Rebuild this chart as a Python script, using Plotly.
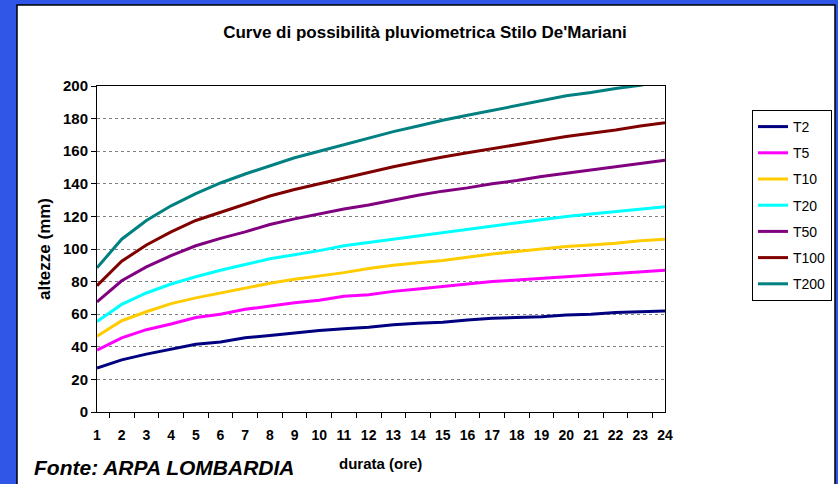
import plotly.graph_objects as go

durata = [str(h) for h in range(1, 25)]

t2 = [27, 32, 35.5, 38.5, 41.5, 43, 45.5, 47, 48.5, 50, 51, 52,
      53.5, 54.5, 55, 56.5, 57.5, 58, 58.5, 59.5, 60, 61, 61.5, 62]
t5 = [38, 45.5, 50.5, 54, 58, 60, 63, 65, 67, 68.5, 71, 72,
      74, 75.5, 77, 78.5, 80, 81, 82, 83, 84, 85, 86, 87]
t10 = [46.5, 56, 61.5, 66.5, 70, 73, 76, 79, 81.5, 83.5, 85.5, 88,
       90, 91.5, 93, 95, 97, 98.5, 100, 101.5, 102.5, 103.5, 105, 106]
t20 = [55.5, 66, 73, 78.5, 83, 87, 90.5, 94, 96.5, 99, 102, 104,
       106, 108, 110, 112, 114, 116, 118, 120, 121.5, 123, 124.5, 126]
t50 = [67.5, 80.5, 89, 96, 102, 106.5, 110.5, 115, 118.5, 121.5, 124.5, 127,
       130, 133, 135.5, 137.5, 140, 142, 144.5, 146.5, 148.5, 150.5, 152.5, 154.5]
t100 = [77.5, 92.5, 102.5, 110.5, 117.5, 122.5, 127.5, 132.5, 136.5, 140, 143.5, 147,
        150.5, 153.5, 156.5, 159, 161.5, 164, 166.5, 169, 171, 173, 175.5, 177.5]
t200 = [88.5, 106, 117.5, 126.5, 134, 140.5, 146, 151, 156, 160, 164, 168,
        172, 175.5, 179, 182, 185, 188, 191, 194, 196, 198.5, 200.5, 203]

series = [
    ("T2", t2, "#000080"),
    ("T5", t5, "#FF00FF"),
    ("T10", t10, "#FFCC00"),
    ("T20", t20, "#00FFFF"),
    ("T50", t50, "#800080"),
    ("T100", t100, "#800000"),
    ("T200", t200, "#008080"),
]

W, H = 838, 484
L, R, T, B = 97, 173, 86, 72
PW, PH = W - L - R, H - T - B
FONT = "Liberation Sans, Arial, sans-serif"


def px(x):
    # page pixel -> paper x
    return (x - L) / PW


def py(y):
    # page pixel -> paper y
    return (H - B - y) / PH


fig = go.Figure()
for name, values, color in series:
    fig.add_trace(
        go.Scatter(
            x=durata,
            y=values,
            mode="lines",
            name=name,
            legendgroup=name,
            line=dict(color=color, width=3),
        )
    )

fig.update_layout(
    width=W,
    height=H,
    paper_bgcolor="#2f56e6",
    plot_bgcolor="white",
    margin=dict(l=L, r=R, t=T, b=B, autoexpand=False),
    title=dict(
        text="Curve di possibilità pluviometrica Stilo De'Mariani",
        x=425 / W,
        xanchor="center",
        y=1 - 32 / H,
        yanchor="middle",
        font=dict(family=FONT, size=17, color="black", weight="bold"),
    ),
    legend=dict(
        x=px(752),
        xanchor="left",
        y=py(110),
        yanchor="top",
        bgcolor="white",
        bordercolor="black",
        borderwidth=1,
        font=dict(family=FONT, size=14, color="black"),
        itemwidth=30,
        tracegroupgap=5,
    ),
    showlegend=True,
    shapes=[
        dict(
            type="rect",
            xref="paper",
            yref="paper",
            x0=px(17),
            x1=px(835),
            y0=py(H + 10),
            y1=py(5),
            fillcolor="white",
            line=dict(color="black", width=1.5),
            layer="below",
        )
    ],
    annotations=[
        dict(
            text="durata (ore)",
            xref="paper",
            yref="paper",
            x=px(380),
            y=py(463),
            xanchor="center",
            yanchor="middle",
            showarrow=False,
            font=dict(family=FONT, size=15, color="black", weight="bold"),
        ),
        dict(
            text="<i>Fonte: ARPA LOMBARDIA</i>",
            xref="paper",
            yref="paper",
            x=px(32),
            y=py(468),
            xanchor="left",
            yanchor="middle",
            showarrow=False,
            font=dict(family=FONT, size=21, color="black", weight="bold"),
        ),
    ],
)

fig.update_xaxes(
    type="category",
    tickson="boundaries",
    ticks="outside",
    ticklen=5,
    tickcolor="black",
    tickangle=0,
    ticklabelstandoff=10,
    automargin=False,
    showline=True,
    linecolor="black",
    linewidth=1,
    mirror=True,
    showgrid=False,
    tickfont=dict(family=FONT, size=14, color="black", weight="bold"),
)

fig.update_yaxes(
    range=[0, 200],
    dtick=20,
    ticks="outside",
    ticklen=5,
    tickcolor="black",
    showline=True,
    linecolor="black",
    linewidth=1,
    mirror=True,
    showgrid=True,
    gridcolor="#808080",
    griddash="dot",
    gridwidth=1,
    zeroline=False,
    automargin=False,
    title=dict(
        text="altezze (mm)",
        standoff=8,
        font=dict(family=FONT, size=17, color="black", weight="bold"),
    ),
    tickfont=dict(family=FONT, size=15, color="black", weight="bold"),
)

fig.write_html(
    "out.html",
    config={"displayModeBar": False},
    post_script="document.body.style.margin='0';document.body.style.overflow='hidden';",
)
